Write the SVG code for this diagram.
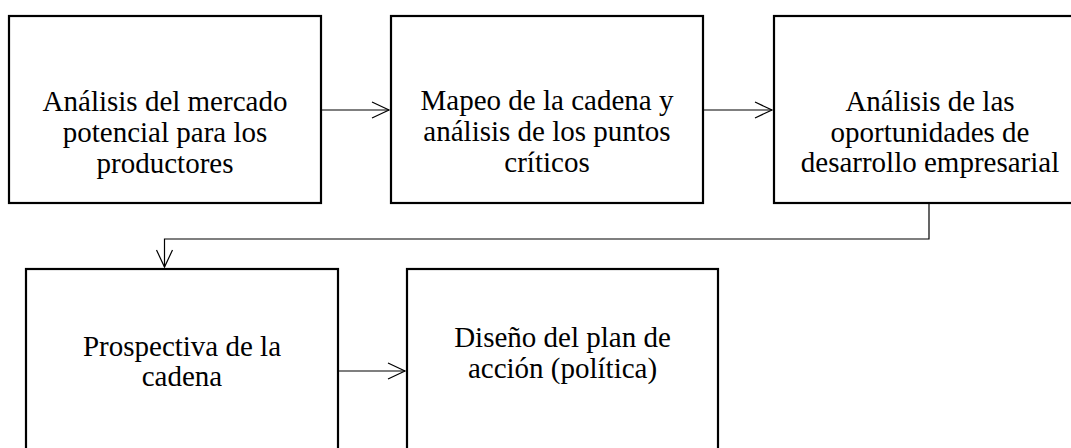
<svg xmlns="http://www.w3.org/2000/svg" width="1071" height="448" viewBox="0 0 1071 448">
<style>
.box{fill:#fff;stroke:#000;stroke-width:2.2}
.t{font-family:"Liberation Serif","Times New Roman",serif;font-size:29px;fill:#000;text-anchor:middle}
.c{fill:none;stroke:#000;stroke-width:1.2}
</style>
<defs>
<marker id="ah" viewBox="0 0 20 20" refX="18" refY="10" markerWidth="20" markerHeight="20" markerUnits="userSpaceOnUse" orient="auto">
<path d="M1,2 L18,10 L1,18" fill="none" stroke="#000" stroke-width="1.2"/>
</marker>
</defs>
<rect width="1071" height="448" fill="#fff"/>
<g id="n1">
<rect class="box" x="9" y="16" width="312" height="187"/>
<text class="t" x="165" y="111">Análisis del mercado</text>
<text class="t" x="165" y="142">potencial para los</text>
<text class="t" x="165" y="173">productores</text>
</g>
<g id="n2">
<rect class="box" x="391" y="16" width="312" height="187"/>
<text class="t" x="547" y="110">Mapeo de la cadena y</text>
<text class="t" x="547" y="141">análisis de los puntos</text>
<text class="t" x="547" y="172">críticos</text>
</g>
<g id="n3">
<rect class="box" x="774" y="16" width="312" height="187"/>
<text class="t" x="930" y="111">Análisis de las</text>
<text class="t" x="930" y="141.5">oportunidades de</text>
<text class="t" x="930" y="172">desarrollo empresarial</text>
</g>
<g id="n4">
<rect class="box" x="26" y="269" width="312" height="200"/>
<text class="t" x="182" y="356">Prospectiva de la</text>
<text class="t" x="182" y="386">cadena</text>
</g>
<g id="n5">
<rect class="box" x="407" y="269" width="311" height="200"/>
<text class="t" x="562.5" y="347">Diseño del plan de</text>
<text class="t" x="562.5" y="378">acción (política)</text>
</g>
<g id="connectors">
<path class="c" d="M322,110 H389" marker-end="url(#ah)"/>
<path class="c" d="M704,110 H772" marker-end="url(#ah)"/>
<path class="c" d="M929,204 V239 H164.5 V267" marker-end="url(#ah)"/>
<path class="c" d="M339,371 H405" marker-end="url(#ah)"/>
</g>
</svg>
